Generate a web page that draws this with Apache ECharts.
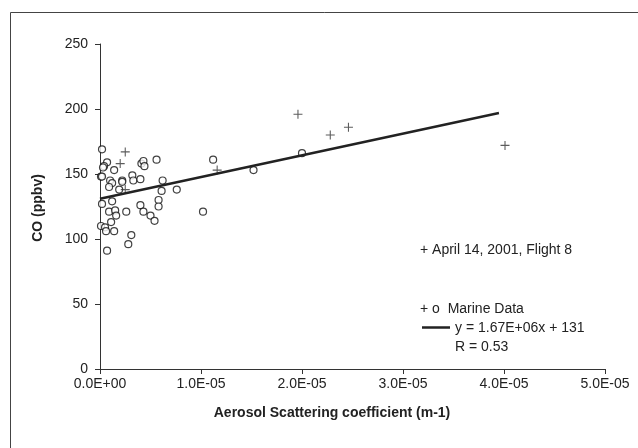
<!DOCTYPE html>
<html><head><meta charset="utf-8">
<script src="https://cdn.jsdelivr.net/npm/echarts@6/dist/echarts.min.js"></script>
<style>html,body{margin:0;padding:0;background:#fff}#c{width:638px;height:448px}</style>
</head><body><div id="c"></div>
<script>
// x values in units of 1e-5 m-1, y in ppbv
const marineX = [0.02,0.07,0.04,0.03,0.14,0.41,0.43,0.44,0.56,1.12,
  0.01,0.02,0.32,0.33,0.22,0.22,0.40,0.10,0.12,0.09,0.19,0.62,0.61,0.76,
  0.02,0.12,0.09,0.15,0.16,0.26,0.40,0.43,0.50,0.54,0.58,0.58,1.02,
  0.11,0.01,0.05,0.06,0.14,0.31,0.28,0.07,2.00,1.52];
const marineY = [169,159,156,155,153,158,160,156,161,161,
  148,148,149,145,145,144,146,145,143,140,138,145,137,138,
  127,129,121,122,118,121,126,121,118,114,130,125,121,
  113,110,109,106,106,103,96,91,166,153];
const flightX = [0.25,0.20,0.25,1.16,1.96,2.28,2.46,4.01];
const flightY = [167,158,138,153,196,180,186,172];
const fitSlope = 1.67e6, fitIntercept = 131;
const fitX = [0, 3.95e-5];
const xTicks = [0,1e-5,2e-5,3e-5,4e-5,5e-5];
const yTicks = [0,50,100,150,200,250];

const SCALE = 1e-5;
const marine = marineX.map((x,i)=>[x*SCALE, marineY[i]]);
const flight = flightX.map((x,i)=>[x*SCALE, flightY[i]]);
const fit = fitX.map(x=>[x, fitSlope*x+fitIntercept]);

function fmtE(v){
  if (Math.abs(v) < 1e-12) return '0.0E+00';
  let e = Math.floor(Math.log10(Math.abs(v)) + 1e-9);
  let m = v / Math.pow(10,e);
  let s = e < 0 ? '-' : '+';
  let ea = Math.abs(e);
  return m.toFixed(1) + 'E' + s + (ea<10?'0':'') + ea;
}
const FONT = '"Liberation Sans", Arial, sans-serif';
const FS = 14;
const chart = echarts.init(document.getElementById('c'), null, {renderer:'canvas'});
chart.setOption({
  animation:false,
  backgroundColor:'#fff',
  grid:{left:100, top:44, width:505, height:325, containLabel:false},
  xAxis:{type:'value', min:xTicks[0], max:xTicks[xTicks.length-1], interval:1e-5,
    splitLine:{show:false},
    axisLine:{lineStyle:{color:'#333', width:1}},
    axisTick:{show:true, inside:false, length:5, lineStyle:{color:'#333'}},
    axisLabel:{formatter:fmtE, color:'#222', fontSize:FS, fontFamily:FONT, margin:8}
  },
  yAxis:{type:'value', min:yTicks[0], max:yTicks[yTicks.length-1], interval:50,
    splitLine:{show:false},
    axisLine:{show:true, lineStyle:{color:'#333', width:1}},
    axisTick:{show:true, inside:false, length:5, lineStyle:{color:'#333'}},
    axisLabel:{color:'#222', fontSize:FS, fontFamily:FONT, margin:12}
  },
  series:[
    {type:'scatter', name:'Marine', data:marine, symbol:'circle', symbolSize:7,
     itemStyle:{color:'#fff', borderColor:'#111', borderWidth:1.2}, z:3},
    {type:'scatter', name:'Flight 8', data:flight,
     symbol:'path://M4.4,0H5.6V4.4H10V5.6H5.6V10H4.4V5.6H0V4.4H4.4Z', symbolSize:9,
     itemStyle:{color:'#333'}, z:4},
    {type:'line', name:'fit', data:fit, showSymbol:false, symbol:'none',
     lineStyle:{color:'#222', width:2.5}, z:5}
  ],
  graphic:[
    {type:'rect', shape:{x:10.5, y:12.5, width:700, height:500}, style:{fill:null, stroke:'#444', lineWidth:1}, silent:true},
    {type:'text', x:332, y:413, style:{text:'Aerosol Scattering coefficient (m-1)', font:'bold '+FS+'px '+FONT, fill:'#222', align:'center', verticalAlign:'middle'}},
    {type:'text', x:38, y:208, rotation:Math.PI/2, style:{text:'CO (ppbv)', font:'bold '+FS+'px '+FONT, fill:'#222', align:'center', verticalAlign:'middle'}},
    {type:'text', x:420, y:250, style:{text:'+ April 14, 2001, Flight 8', font:FS+'px '+FONT, fill:'#222', verticalAlign:'middle'}},
    {type:'text', x:420, y:309, style:{text:'+ o  Marine Data', font:FS+'px '+FONT, fill:'#222', verticalAlign:'middle'}},
    {type:'line', shape:{x1:422, y1:327.5, x2:450, y2:327.5}, style:{stroke:'#222', lineWidth:2.5}},
    {type:'text', x:455, y:328, style:{text:'y = 1.67E+06x + 131', font:FS+'px '+FONT, fill:'#222', verticalAlign:'middle'}},
    {type:'text', x:455, y:347, style:{text:'R = 0.53', font:FS+'px '+FONT, fill:'#222', verticalAlign:'middle'}}
  ]
});
</script></body></html>
